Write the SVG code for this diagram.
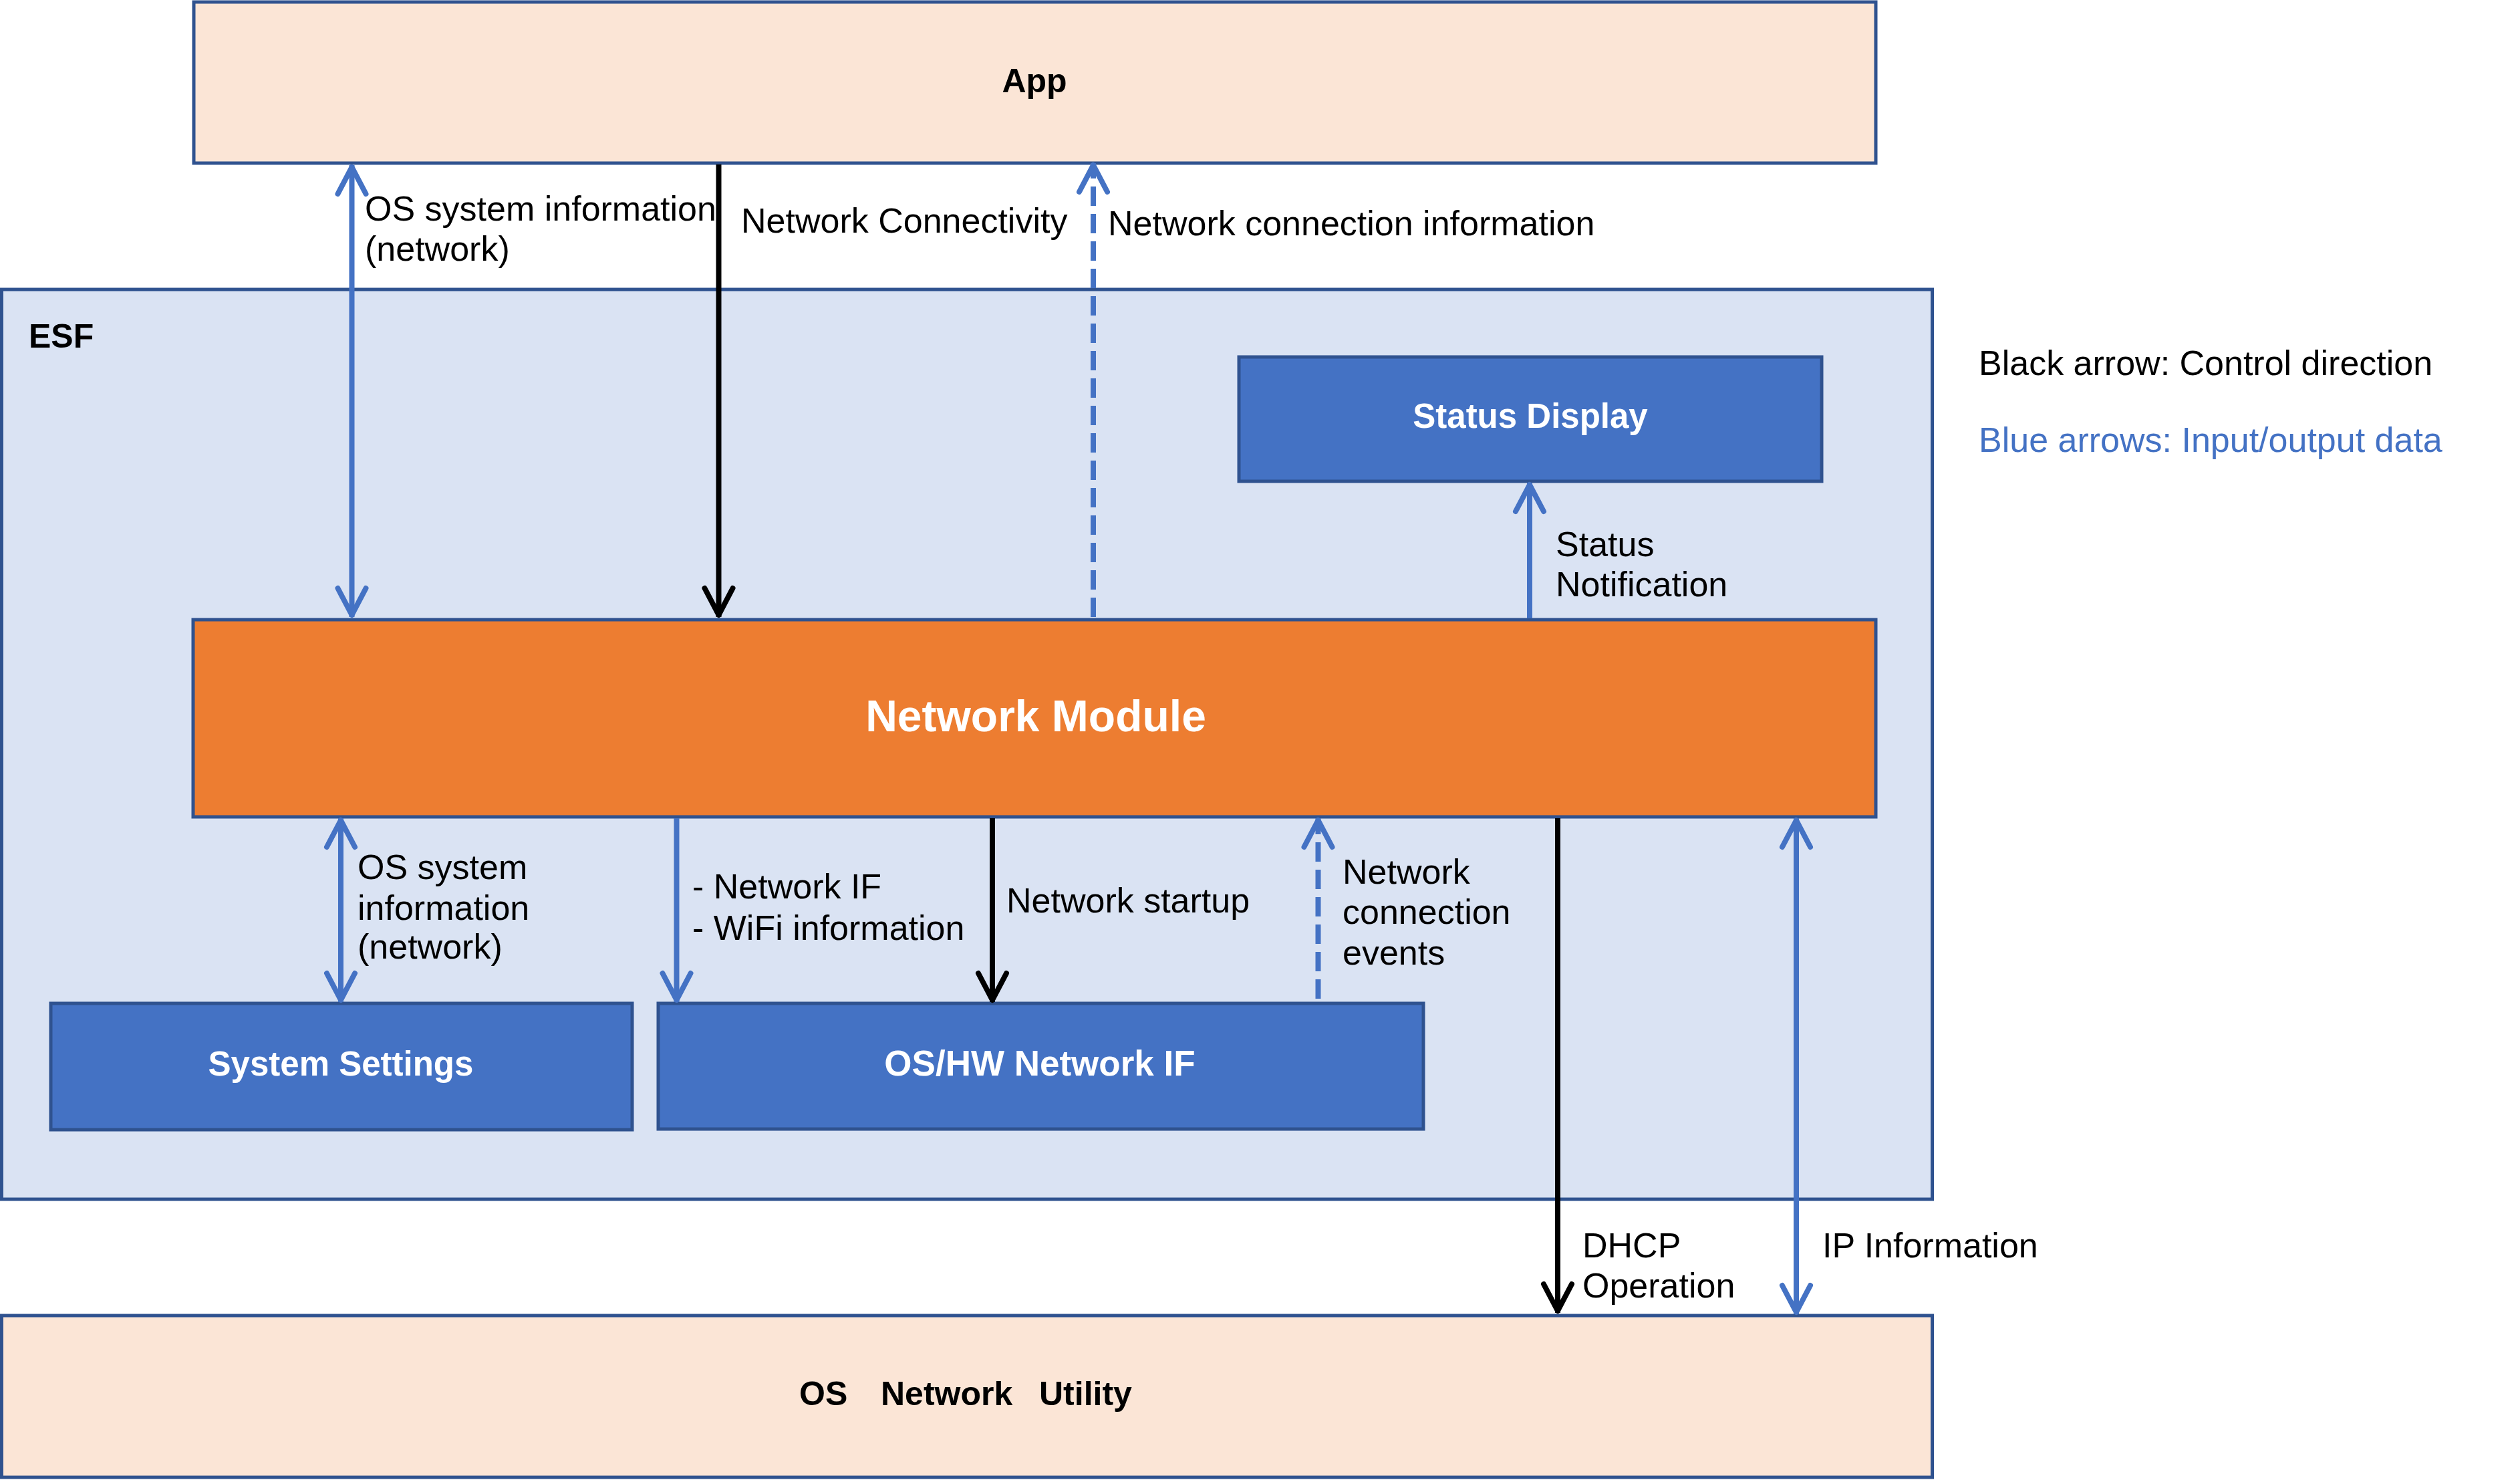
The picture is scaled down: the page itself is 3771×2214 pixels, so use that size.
<svg xmlns="http://www.w3.org/2000/svg" width="3771" height="2214" viewBox="0 0 3771 2214">
<style>
.box{stroke:#2F528F;stroke-width:5}
.peach{fill:#FBE5D6}
.esf{fill:#DAE3F3}
.blue{fill:#4472C4}
.orange{fill:#ED7D31}
.t{font-family:"Liberation Sans",Arial,sans-serif;font-size:52px;fill:#000}
.b{font-family:"Liberation Sans",Arial,sans-serif;font-weight:bold;font-size:50px;fill:#000}
.w{fill:#FFFFFF}
.mid{text-anchor:middle}
.lb{fill:none;stroke:#4472C4;stroke-width:8}
.lk{fill:none;stroke:#000;stroke-width:8}
.dash{stroke-dasharray:29 12}
</style>
<defs>
<marker id="ab" markerUnits="userSpaceOnUse" markerWidth="120" markerHeight="120" viewBox="-60 -60 120 120" refX="3" refY="0" orient="auto-start-reverse" overflow="visible">
<path d="M-40,-21 L0,0 L-40,21" fill="none" stroke="#4472C4" stroke-width="8" stroke-linecap="round" stroke-linejoin="round"/>
</marker>
<marker id="ak" markerUnits="userSpaceOnUse" markerWidth="120" markerHeight="120" viewBox="-60 -60 120 120" refX="3" refY="0" orient="auto-start-reverse" overflow="visible">
<path d="M-40,-21 L0,0 L-40,21" fill="none" stroke="#000" stroke-width="8" stroke-linecap="round" stroke-linejoin="round"/>
</marker>
</defs>
<rect width="3771" height="2214" fill="#FFFFFF"/>

<g id="app">
<rect class="box peach" x="290" y="3" width="2517" height="241"/>
<text class="b mid" x="1548" y="138">App</text>
</g>

<g id="esf">
<rect class="box esf" x="2.5" y="433" width="2889" height="1361"/>
<text class="b" x="43" y="520">ESF</text>
</g>

<g id="status-display">
<rect class="box blue" x="1854" y="534" width="872" height="186"/>
<text class="b w mid" x="2290" y="640" style="font-size:51px">Status Display</text>
</g>

<g id="network-module">
<rect class="box orange" x="289" y="927" width="2518" height="295"/>
<text class="b w mid" x="1550" y="1094" style="font-size:66px">Network Module</text>
</g>

<g id="system-settings">
<rect class="box blue" x="76" y="1501" width="870" height="189"/>
<text class="b w mid" x="510" y="1609" style="font-size:51px">System Settings</text>
</g>

<g id="oshw-network-if">
<rect class="box blue" x="985" y="1501" width="1145" height="188"/>
<text class="b w mid" x="1556" y="1609" style="font-size:53px">OS/HW Network IF</text>
</g>

<g id="os-network-utility">
<rect class="box peach" x="2.5" y="1968" width="2889" height="242"/>
<text class="b" y="2102"><tspan x="1196">OS</tspan><tspan x="1318">Network</tspan><tspan x="1555">Utility</tspan></text>
</g>

<g id="connectors">
<line class="lb" x1="526.5" y1="247" x2="526.5" y2="923" marker-start="url(#ab)" marker-end="url(#ab)"/>
<line class="lk" x1="1075.5" y1="246" x2="1075.5" y2="923" marker-end="url(#ak)"/>
<line class="lb dash" x1="1636" y1="923" x2="1636" y2="244" marker-end="url(#ab)"/>
<line class="lb" x1="2289" y1="925" x2="2289" y2="722" marker-end="url(#ab)"/>
<line class="lb" x1="510" y1="1224" x2="510" y2="1499" marker-start="url(#ab)" marker-end="url(#ab)"/>
<line class="lb" x1="1012.5" y1="1224" x2="1012.5" y2="1499" marker-end="url(#ab)"/>
<line class="lk" x1="1485" y1="1224" x2="1485" y2="1499" marker-end="url(#ak)"/>
<line class="lb dash" x1="1972.5" y1="1494" x2="1972.5" y2="1224" marker-end="url(#ab)"/>
<line class="lk" x1="2331" y1="1224" x2="2331" y2="1964" marker-end="url(#ak)"/>
<line class="lb" x1="2688" y1="1224" x2="2688" y2="1966" marker-start="url(#ab)" marker-end="url(#ab)"/>
</g>

<g id="labels">
<text class="t" x="546" y="330">OS system information</text>
<text class="t" x="546" y="390">(network)</text>
<text class="t" x="1109" y="348">Network Connectivity</text>
<text class="t" x="1658" y="352">Network connection information</text>
<text class="t" x="2328" y="832">Status</text>
<text class="t" x="2328" y="892">Notification</text>
<text class="t" x="535" y="1315">OS system</text>
<text class="t" x="535" y="1376">information</text>
<text class="t" x="535" y="1434">(network)</text>
<text class="t" x="1036" y="1344">- Network IF</text>
<text class="t" x="1036" y="1406">- WiFi information</text>
<text class="t" x="1506" y="1365">Network startup</text>
<text class="t" x="2009" y="1322">Network</text>
<text class="t" x="2009" y="1382">connection</text>
<text class="t" x="2009" y="1443">events</text>
<text class="t" x="2368" y="1881">DHCP</text>
<text class="t" x="2368" y="1941">Operation</text>
<text class="t" x="2727" y="1881">IP Information</text>
</g>

<g id="legend">
<text class="t" x="2961" y="561">Black arrow: Control direction</text>
<text class="t" x="2961" y="676" style="fill:#4472C4">Blue arrows: Input/output data</text>
</g>
</svg>
